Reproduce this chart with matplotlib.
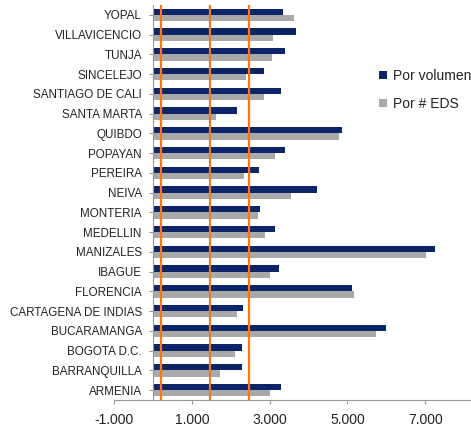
import matplotlib
matplotlib.use("Agg")
import matplotlib.pyplot as plt
import numpy as np
from matplotlib.ticker import FuncFormatter

plt.rcParams['font.family'] = ['Liberation Sans', 'DejaVu Sans']

categories = ["ARMENIA", "BARRANQUILLA", "BOGOTA D.C.", "BUCARAMANGA", "CARTAGENA DE INDIAS",
              "FLORENCIA", "IBAGUE", "MANIZALES", "MEDELLIN", "MONTERIA", "NEIVA", "PEREIRA",
              "POPAYAN", "QUIBDO", "SANTA MARTA", "SANTIAGO DE CALI", "SINCELEJO", "TUNJA",
              "VILLAVICENCIO", "YOPAL"]
por_volumen = [3290, 2290, 2280, 5980, 2320, 5120, 3240, 7260, 3150, 2760, 4210, 2730,
               3390, 4850, 2150, 3290, 2860, 3390, 3670, 3340]
por_eds = [3000, 1720, 2100, 5740, 2160, 5170, 3020, 7030, 2890, 2710, 3560, 2330,
           3140, 4780, 1630, 2860, 2400, 3050, 3090, 3620]
ref_lines = [220, 1460, 2470]
xticks = [-1000, 1000, 3000, 5000, 7000]

navy = "#0C2468"
gray = "#A9A9A9"
orange = "#F07A1E"

fig = plt.figure(figsize=(4.71, 4.25), dpi=100)
ax = fig.add_axes([114/471, 1 - 400/425, (470 - 114)/471, 395/425])

y = np.arange(len(categories))
h = 0.32
ax.barh(y + h/2, por_volumen, height=h, color=navy, label="Por volumen", zorder=2)
ax.barh(y - h/2, por_eds, height=h, color=gray, label="Por # EDS", zorder=2)
for v in ref_lines:
    ax.axvline(v, color=orange, lw=1.6, zorder=3)

ax.set_xlim(-1000, 8150)
ax.set_ylim(-0.5, len(categories) - 0.5)
ax.set_yticks(y)
ax.set_yticklabels(categories)
ax.set_xticks(xticks)
ax.xaxis.set_major_formatter(FuncFormatter(lambda v, p: f"{int(v):,}".replace(",", ".")))
ax.tick_params(axis='x', labelsize=10, labelcolor="#222222", length=3, color="#999999", pad=6)
ax.tick_params(axis='y', labelsize=8.4, labelcolor="#222222", length=3, color="#999999", pad=5)
for s in ["top", "right"]:
    ax.spines[s].set_visible(False)
ax.spines["left"].set_position(("data", 0))
ax.spines["left"].set_color("#999999")
ax.spines["bottom"].set_color("#999999")

handles, labels = ax.get_legend_handles_labels()
leg = fig.legend(handles, labels, loc="upper left", bbox_to_anchor=(368/471, 1 - 58/425),
                 frameon=False, fontsize=10, handlelength=0.55, handleheight=0.55,
                 handletextpad=0.45, labelspacing=1.0, borderpad=0.3)
for t in leg.get_texts():
    t.set_color("#222222")

fig.savefig("out.png", dpi=100)
